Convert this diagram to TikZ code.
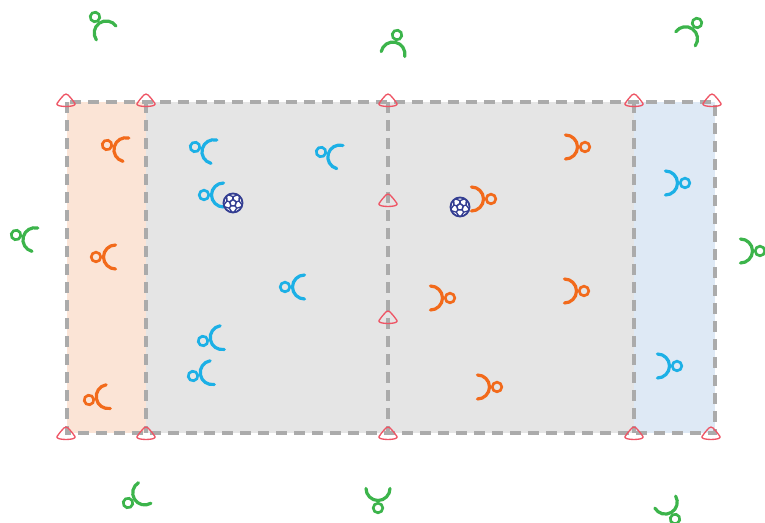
\documentclass[tikz,border=0pt]{standalone}
\definecolor{cOr}{HTML}{F26A1B}
\definecolor{cBl}{HTML}{1CB0E6}
\definecolor{cGr}{HTML}{3CB44B}
\definecolor{cRed}{HTML}{EE5565}
\definecolor{cDash}{HTML}{ABABAB}
\definecolor{cNavy}{HTML}{343E92}
\definecolor{fOr}{HTML}{FBE4D6}
\definecolor{fGy}{HTML}{E5E5E5}
\definecolor{fBl}{HTML}{DEE9F5}
\tikzset{x=0.75pt,y=0.75pt,
 border line/.style={cDash,line width=2.3pt,dash pattern=on 8pt off 5.5pt},
 conemark/.pic={\draw[cRed,line width=1pt,line join=round]
   (-9,-3.5) .. controls (-7,-0.5) and (-4.5,2.5) .. (-2.2,4.9) .. controls (-1,6.3) and (1,6.3) .. (2.2,4.9)
   .. controls (4.5,2.5) and (7,-0.5) .. (9,-3.5)
   .. controls (11.5,-7.5) and (-11.5,-7.5) .. (-9,-3.5) -- cycle;},
 playermark/.pic={\draw[line width=2pt] (0,0) circle (4.8);
   \draw[line width=2.4pt,line cap=round] (19.5,12) arc[start angle=90,end angle=270,radius=12];},
 ballmark/.pic={\draw[cNavy,line width=1.4pt,fill=white] (0,0) circle (9.5);
   \draw[cNavy,line width=1.2pt,line join=round] (90:3.5) -- (162:3.5) -- (234:3.5) -- (306:3.5) -- (18:3.5) -- cycle;
   \foreach \a in {90,162,234,306,18}{
     \draw[cNavy,line width=1pt] (\a:3.5) -- (\a:6.4);
     \draw[cNavy,line width=1pt] (\a:6.4) -- (\a+30:9.3) (\a:6.4) -- (\a-30:9.3);}}
}
\newcommand{\plr}[4]{\pic[#4] at (#1,523-#2) [rotate=#3] {playermark};}
\newcommand{\cone}[2]{\pic at (#1,523-#2) {conemark};}
\newcommand{\ball}[2]{\pic at (#1,523-#2) {ballmark};}
\begin{document}
\begin{tikzpicture}
\useasboundingbox (0,0) rectangle (765,523);
\fill[fOr] (67,90) rectangle (146,421);
\fill[fGy] (146,90) rectangle (634,421);
\fill[fBl] (634,90) rectangle (715,421);
\draw[border line] (67,421) rectangle (715,90);
\draw[border line] (146,421) -- (146,90);
\draw[border line] (388,421) -- (388,90);
\draw[border line] (634,421) -- (634,90);
\foreach \x in {66,146,388,634,712}{\cone{\x}{100}}
\foreach \x in {66,146,388,634,711}{\cone{\x}{433}}
\cone{388}{200}\cone{388}{317}
\plr{107}{145}{-14}{cOr}\plr{96}{257}{0}{cOr}\plr{89}{400}{10}{cOr}
\plr{195}{147}{-14}{cBl}\plr{204}{195}{0}{cBl}\plr{321}{152}{-15}{cBl}
\plr{285}{287}{0}{cBl}\plr{203}{341}{10}{cBl}\plr{193}{376}{10}{cBl}
\plr{585}{147}{180}{cOr}\plr{491}{199}{180}{cOr}\plr{450}{298}{180}{cOr}
\plr{584}{291}{180}{cOr}\plr{497}{387}{180}{cOr}
\plr{685}{183}{180}{cBl}\plr{677}{366}{180}{cBl}
\plr{95}{17}{-55}{cGr}\plr{397}{35}{-102}{cGr}\plr{697}{23}{-126}{cGr}
\plr{16}{235}{-14}{cGr}\plr{760}{251}{180}{cGr}
\plr{128}{503}{31}{cGr}\plr{378}{508}{90}{cGr}\plr{675}{519}{120}{cGr}
\ball{233}{203}\ball{460}{207}
\end{tikzpicture}
\end{document}
